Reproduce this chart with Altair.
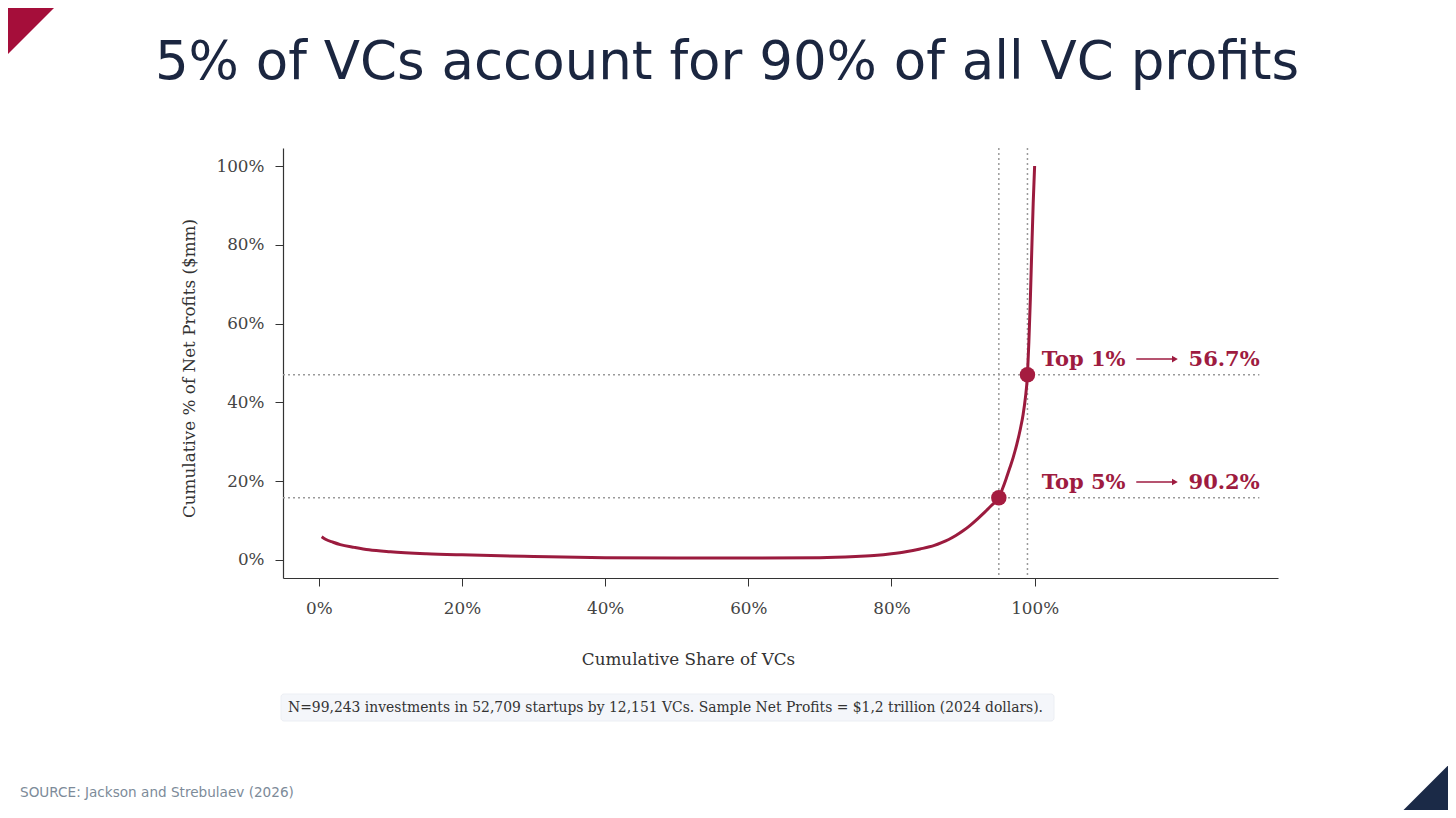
import altair as alt
import pandas as pd

# ---- data ----
share_vcs = [0.4, 1, 2, 3, 5, 7, 10, 15, 20, 30, 40, 50, 60, 70, 75, 78, 80, 82, 84, 86,
             87, 88, 89, 90, 91, 92, 93, 94, 95, 95.5, 96, 96.5, 97, 97.5, 98, 98.4, 98.7,
             99, 99.2, 99.4, 99.6, 99.8, 100]
cum_profit = [5.9, 5.2, 4.5, 3.9, 3.2, 2.6, 2.1, 1.6, 1.3, 0.9, 0.6, 0.5, 0.5, 0.6, 0.9, 1.2,
              1.6, 2.1, 2.8, 3.7, 4.4, 5.2, 6.2, 7.4, 8.8, 10.4, 12.1, 13.9, 15.8, 18.0,
              20.5, 23.2, 26.0, 29.3, 33.2, 37.0, 41.0, 47.0, 55.5, 66.0, 78.5, 90.5, 100.0]

top_labels = ["Top 1%", "Top 5%"]
top_values = ["56.7%", "90.2%"]
top_share = [99, 95]
top_profit = [47.0, 15.8]

x_ticks = [0, 20, 40, 60, 80, 100]
y_ticks = [0, 20, 40, 60, 80, 100]

title_text = "5% of VCs account for 90% of all VC profits"
note_text = ("N=99,243 investments in 52,709 startups by 12,151 VCs. "
             "Sample Net Profits = $1,2 trillion (2024 dollars).")
source_text = "SOURCE: Jackson and Strebulaev (2026)"
x_title = "Cumulative Share of VCs"
y_title = "Cumulative % of Net Profits ($mm)"

# ---- styles ----
CRIMSON = "#9E1B40"
NAVY = "#1B2640"
SERIF = "DejaVu Serif"
X_DOMAIN = [-5, 134]
Y_DOMAIN = [-4.57, 104.57]

curve = pd.DataFrame({"x": share_vcs, "y": cum_profit})
tops = pd.DataFrame({"label": top_labels, "value": top_values,
                     "x": top_share, "y": top_profit})
tops["x_end"] = 131.4
tops["x_left"] = X_DOMAIN[0]
tops["label_x"] = 101.0
tops["label_y"] = tops["y"] + 2.3
tops["arrow_y"] = tops["y"] + 4.0
tops["arrow_x0"] = 114.2
tops["arrow_x1"] = 119.2
tops["arrow_head"] = 119.6
tops["value_x"] = 121.5

xs = alt.Scale(domain=X_DOMAIN, nice=False, zero=False)
ys = alt.Scale(domain=Y_DOMAIN, nice=False, zero=False)

x_axis = alt.Axis(values=x_ticks, labelExpr="datum.value + '%'", grid=False,
                  domainColor="#333333", domainWidth=1.2, tickColor="#333333",
                  tickSize=8, tickWidth=1, labelFont=SERIF, labelFontSize=16.8,
                  labelColor="#444444", labelPadding=14, title=x_title,
                  titleFont=SERIF, titleFontSize=16.8, titleFontWeight="normal",
                  titleColor="#333333", titleX=405, titleY=86,
                  titleBaseline="alphabetic", titleAnchor="middle")
y_axis = alt.Axis(values=y_ticks, labelExpr="datum.value + '%'", grid=False,
                  domainColor="#333333", domainWidth=1.2, tickColor="#333333",
                  tickSize=8, tickWidth=1, labelFont=SERIF, labelFontSize=16.8,
                  labelColor="#444444", labelPadding=11, title=y_title,
                  titleFont=SERIF, titleFontSize=16.8, titleFontWeight="normal",
                  titleColor="#333333", titleX=-89, titleY=220, titleAngle=270,
                  titleBaseline="alphabetic", titleAnchor="middle")

base_curve = alt.Chart(curve)

line = base_curve.mark_line(color="#9B1B3E", strokeWidth=3, interpolate="monotone").encode(
    x=alt.X("x:Q", scale=xs, axis=x_axis),
    y=alt.Y("y:Q", scale=ys, axis=y_axis),
)

tb = alt.Chart(tops)
dotted = dict(color="#9A9A9A", strokeDash=[2, 3], strokeWidth=1.5)
vlines = tb.mark_rule(**dotted).encode(x=alt.X("x:Q", scale=xs))
hlines = tb.mark_rule(**dotted).encode(
    x=alt.X("x_left:Q", scale=xs), x2="x_end:Q", y=alt.Y("y:Q", scale=ys))
dots = tb.mark_circle(color="#A51C40", size=240, opacity=1).encode(
    x=alt.X("x:Q", scale=xs), y=alt.Y("y:Q", scale=ys))
labels = tb.mark_text(font=SERIF, fontWeight="bold", fontSize=21, color=CRIMSON,
                      align="left", baseline="alphabetic").encode(
    x=alt.X("label_x:Q", scale=xs), y=alt.Y("label_y:Q", scale=ys), text="label:N")
arrows = tb.mark_rule(color=CRIMSON, strokeWidth=1.6).encode(
    x=alt.X("arrow_x0:Q", scale=xs), x2="arrow_x1:Q", y=alt.Y("arrow_y:Q", scale=ys))
heads = tb.mark_point(shape="triangle-right", size=45, filled=True, opacity=1,
                      color=CRIMSON, strokeWidth=0).encode(
    x=alt.X("arrow_head:Q", scale=xs), y=alt.Y("arrow_y:Q", scale=ys))
values = tb.mark_text(font=SERIF, fontWeight="bold", fontSize=21, color=CRIMSON,
                      align="left", baseline="alphabetic").encode(
    x=alt.X("value_x:Q", scale=xs), y=alt.Y("label_y:Q", scale=ys), text="value:N")

# ---- page decorations (pixel positions relative to plot area origin) ----
one = alt.Chart(pd.DataFrame({"t": [title_text], "n": [note_text], "s": [source_text]}))
title = one.mark_text(font="DejaVu Sans", fontSize=53, color=NAVY, align="center",
                      baseline="alphabetic").encode(
    x=alt.value(444), y=alt.value(-69), text="t:N")
note_box = one.mark_rect(fill="#F4F6FA", stroke="#ECEFF4", strokeWidth=1, cornerRadius=3).encode(
    x=alt.value(-2), x2=alt.value(771), y=alt.value(546), y2=alt.value(573))
note = one.mark_text(font=SERIF, fontSize=13.9, color="#333333", align="left",
                     baseline="middle").encode(
    x=alt.value(5), y=alt.value(559.5), text="n:N")
source = one.mark_text(font="DejaVu Sans", fontSize=13.6, color="#7D8B99", align="left",
                       baseline="alphabetic").encode(
    x=alt.value(-263), y=alt.value(649), text="s:N")
tri_tl = one.mark_point(shape="M-1,-1L1,-1L-1,1Z", size=6400, filled=True, opacity=1,
                        color="#A50E3A", strokeWidth=0).encode(
    x=alt.value(31 - 283), y=alt.value(31 - 148))
tri_br = one.mark_point(shape="M1,-1L1,1L-1,1Z", size=6400, filled=True, opacity=1,
                        color="#1B2A47", strokeWidth=0).encode(
    x=alt.value(1426 - 283), y=alt.value(787.5 - 148))

chart = alt.layer(
    vlines, hlines, line, dots, labels, arrows, heads, values,
    title, note_box, note, source, tri_tl, tri_br,
).properties(
    width=995, height=430,
    autosize=alt.AutoSizeParams(type="none"),
    padding={"left": 275, "top": 140, "right": 170, "bottom": 232},
    background="white",
).configure_view(stroke=None)

chart.save("out.html", embed_options={"renderer": "svg", "actions": False})
